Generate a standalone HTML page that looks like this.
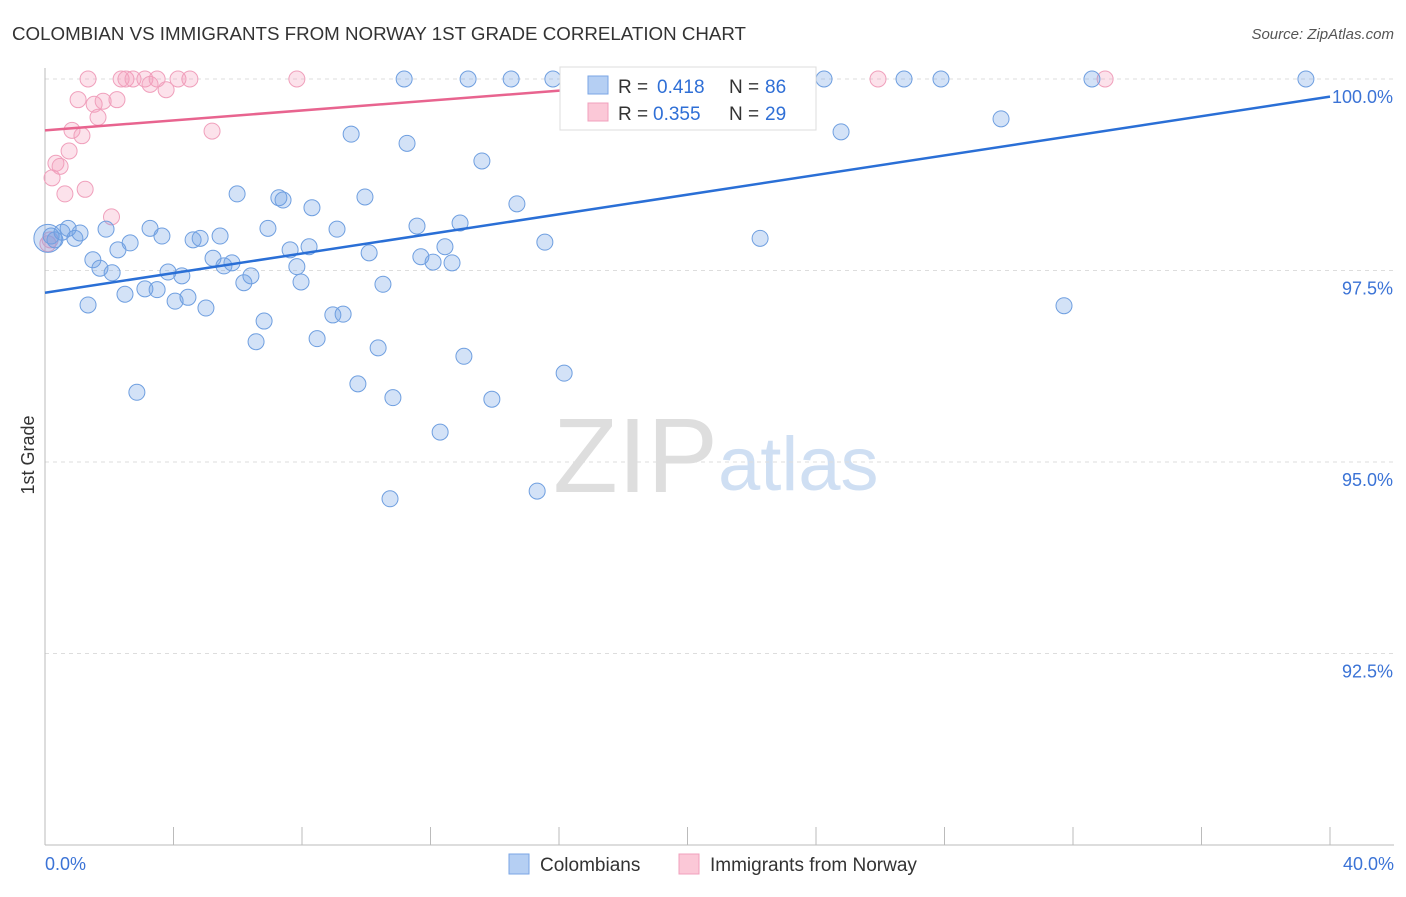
<!DOCTYPE html>
<html><head><meta charset="utf-8"><style>
body{margin:0;background:#fff;font-family:"Liberation Sans",sans-serif;}
svg text{font-family:"Liberation Sans",sans-serif;}
</style></head><body>
<svg id="chart" width="1406" height="892" viewBox="0 0 1406 892">
<text x="12" y="40" font-size="18.5" fill="#333" textLength="734" lengthAdjust="spacingAndGlyphs">COLOMBIAN VS IMMIGRANTS FROM NORWAY 1ST GRADE CORRELATION CHART</text>
<text x="1394" y="39" font-size="15" fill="#555" font-style="italic" text-anchor="end">Source: ZipAtlas.com</text>
<text x="553" y="492" font-size="106" fill="#dedede" font-family="Liberation Serif">ZIP</text>
<text x="718" y="490" font-size="76" fill="#cfdff3">atlas</text>
<g id="grid"></g><g id="axes"></g><g id="marks"></g>
<text transform="translate(34,455) rotate(-90)" font-size="18" fill="#333" text-anchor="middle">1st Grade</text>
<g>
<rect x="560" y="67" width="256" height="63" fill="#fff" stroke="#ddd"/>
<rect x="588" y="76" width="20" height="18" fill="#b5cff3" stroke="#7aa6e6"/>
<text x="618" y="93" font-size="19" fill="#333">R =</text>
<text x="657" y="93" font-size="19" fill="#2f6fd6">0.418</text>
<text x="729" y="93" font-size="19" fill="#333">N =</text>
<text x="765" y="93" font-size="19" fill="#2f6fd6">86</text>
<rect x="588" y="103" width="20" height="18" fill="#fbc8d7" stroke="#f0a0bc"/>
<text x="618" y="120" font-size="19" fill="#333">R =</text>
<text x="653" y="120" font-size="19" fill="#2f6fd6">0.355</text>
<text x="729" y="120" font-size="19" fill="#333">N =</text>
<text x="765" y="120" font-size="19" fill="#2f6fd6">29</text>
</g>
<g>
<rect x="509" y="854" width="20" height="20" fill="#b5cff3" stroke="#7aa6e6"/>
<text x="540" y="871" font-size="19" fill="#333">Colombians</text>
<rect x="679" y="854" width="20" height="20" fill="#fbc8d7" stroke="#f0a0bc"/>
<text x="710" y="871" font-size="19" fill="#333">Immigrants from Norway</text>
</g>
</svg>
<script>
const yTicks=[100,97.5,95,92.5];
const yTickLabels=["100.0%","97.5%","95.0%","92.5%"];
const xLabels=["0.0%","40.0%"];
const blueX=[0.09,0.31,0.53,0.72,0.93,1.09,1.34,1.49,1.71,1.9,2.09,2.27,2.49,2.65,3.11,3.27,3.49,3.64,3.83,4.05,4.26,4.45,4.61,4.83,5.01,5.23,5.45,5.57,5.82,5.98,6.19,6.41,6.57,6.82,6.94,7.28,7.41,7.63,7.84,7.97,8.22,8.31,8.47,8.96,9.09,9.28,9.53,9.74,9.96,10.09,10.37,10.52,10.83,11.18,11.27,11.58,11.7,12.08,12.3,12.45,12.67,12.92,13.04,13.17,13.6,13.91,14.51,14.69,15.32,15.56,15.81,16.16,10.74,2.86,22.26,24.25,24.78,26.74,27.89,29.76,31.72,32.59,39.25,17.18,19.52,0.19];
const blueY=[97.92,97.9,98.0,98.05,97.92,97.99,97.05,97.64,97.53,98.04,97.47,97.77,97.19,97.86,97.26,98.05,97.25,97.95,97.48,97.1,97.43,97.15,97.9,97.92,97.01,97.66,97.95,97.56,97.6,98.5,97.34,97.43,96.57,96.84,98.05,98.45,98.42,97.77,97.55,97.35,97.81,98.32,96.61,96.92,98.04,96.93,99.28,96.02,98.46,97.73,96.49,97.32,95.84,100,99.16,98.08,97.68,97.61,95.39,97.81,97.6,98.12,96.38,100,98.93,95.82,100,98.37,94.62,97.87,100,96.16,94.52,95.91,97.92,100,99.31,100,100,99.48,97.04,100,100,100,100,97.95];
const pinkX=[0.09,0.16,0.22,0.34,0.47,0.62,0.75,0.84,1.03,1.15,1.25,1.34,1.53,1.65,1.81,2.07,2.24,2.37,2.52,2.74,3.11,3.27,3.49,3.77,4.14,4.51,5.2,7.84,25.93,33.0];
const pinkY=[97.85,97.9,98.71,98.9,98.86,98.5,99.06,99.33,99.73,99.26,98.56,100,99.67,99.5,99.71,98.2,99.73,100,100,100,100,99.93,100,99.86,100,100,99.32,100,100,100];
const blueTrend=[[0,97.21],[40,99.77]];
const pinkTrend=[[0,99.33],[21,100.01]];
const NS="http://www.w3.org/2000/svg";
const X0=45,X1=1330,Y0=845,Y1=79;
const sx=v=>X0+(v/40)*(X1-X0);
const sy=v=>Y0-(v-90)/10*(Y0-Y1);
function mk(tag,attrs,parent){const e=document.createElementNS(NS,tag);for(const k in attrs)e.setAttribute(k,attrs[k]);parent.appendChild(e);return e;}
const grid=document.getElementById('grid'),axes=document.getElementById('axes'),marks=document.getElementById('marks');
yTicks.forEach((t,i)=>{
 const l=mk('line',{x1:X0,x2:1394,y1:sy(t),y2:sy(t),stroke:'#ddd','stroke-dasharray':'4,4'},grid);
 
 
 const tx=mk('text',{x:1393,y:sy(t)+24,'font-size':18,fill:'#3b73d6','text-anchor':'end'},axes);
 tx.textContent=yTickLabels[i];
 
 
});
const xa=mk('line',{x1:X0,x2:1394,y1:Y0,y2:Y0,stroke:'#bbb'},axes);


const ya=mk('line',{x1:X0,x2:X0,y1:68,y2:Y0,stroke:'#bbb'},axes);


for(let t=0;t<=40;t+=4){
 const tk=mk('line',{x1:sx(t),x2:sx(t),y1:Y0,y2:Y0-18,stroke:'#bbb'},axes);
 
 
}
[[0,'start',45],[40,'end',1394]].forEach((d,i)=>{
 const tx=mk('text',{x:d[2],y:870,'font-size':18,fill:'#3b73d6','text-anchor':d[1]},axes);
 tx.textContent=xLabels[i];
 
 
});
pinkX.forEach((x,i)=>{
 const c=mk('circle',{cx:sx(x),cy:sy(pinkY[i]),r:8,fill:'rgba(245,160,190,0.3)',stroke:'#f0a0bc','stroke-width':1},marks);
 
 
});
blueX.forEach((x,i)=>{
 const c=mk('circle',{cx:sx(x),cy:sy(blueY[i]),r:i===0?14:8,fill:'rgba(110,160,230,0.3)',stroke:'#6f9fe0','stroke-width':1},marks);
 
 
});
const bl=mk('line',{x1:sx(blueTrend[0][0]),y1:sy(blueTrend[0][1]),x2:sx(blueTrend[1][0]),y2:sy(blueTrend[1][1]),stroke:'#2a6fd6','stroke-width':2.5},marks);


const pl=mk('line',{x1:sx(pinkTrend[0][0]),y1:sy(pinkTrend[0][1]),x2:sx(pinkTrend[1][0]),y2:sy(pinkTrend[1][1]),stroke:'#e8648f','stroke-width':2.5},marks);


</script>
</body></html>
